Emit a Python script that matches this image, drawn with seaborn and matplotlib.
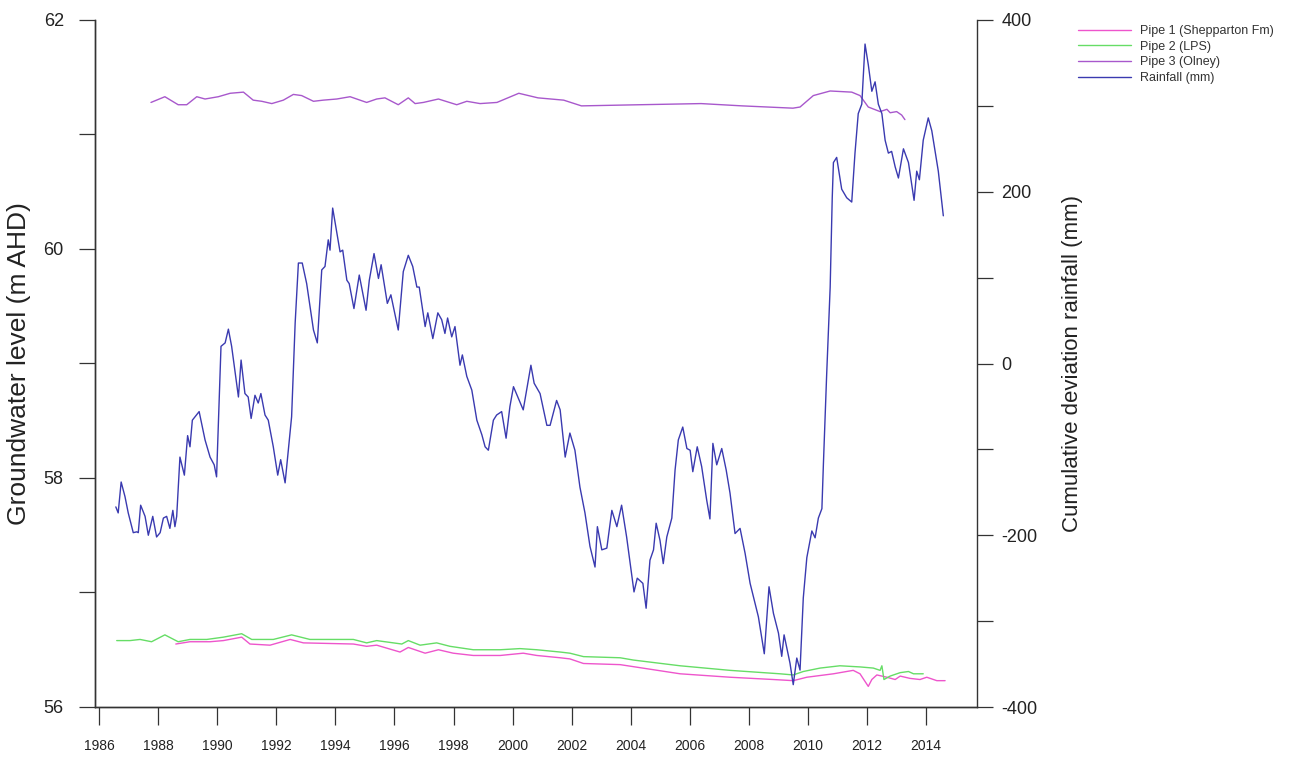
import matplotlib
matplotlib.use("Agg")
import matplotlib.pyplot as plt
import seaborn as sns
import numpy as np

# ---------------- data ----------------
rain_year = [
    1986.57, 1986.65, 1986.75, 1986.88, 1986.99, 1987.16, 1987.28, 1987.33, 1987.41, 1987.56,
    1987.67, 1987.82, 1987.95, 1988.07, 1988.18, 1988.29, 1988.40, 1988.50, 1988.57, 1988.63,
    1988.74, 1988.89, 1989.00, 1989.08, 1989.16, 1989.39, 1989.59, 1989.76, 1989.90, 1989.98,
    1990.13, 1990.27, 1990.38, 1990.49, 1990.72, 1990.81, 1990.94, 1991.05, 1991.15, 1991.28,
    1991.39, 1991.48, 1991.62, 1991.73, 1991.90, 1992.05, 1992.15, 1992.30, 1992.52, 1992.64,
    1992.75, 1992.88, 1993.03, 1993.26, 1993.39, 1993.54, 1993.65, 1993.76, 1993.82, 1993.91,
    1994.05, 1994.16, 1994.25, 1994.39, 1994.47, 1994.63, 1994.81, 1995.04, 1995.15, 1995.31,
    1995.46, 1995.55, 1995.76, 1995.88, 1996.13, 1996.30, 1996.47, 1996.62, 1996.76, 1996.84,
    1997.04, 1997.13, 1997.30, 1997.47, 1997.60, 1997.71, 1997.80, 1997.94, 1998.05, 1998.22,
    1998.30, 1998.45, 1998.62, 1998.79, 1998.96, 1999.07, 1999.18, 1999.35, 1999.46, 1999.63,
    1999.78, 1999.91, 2000.03, 2000.36, 2000.62, 2000.73, 2000.93, 2001.16, 2001.27, 2001.49,
    2001.61, 2001.78, 2001.94, 2002.11, 2002.28, 2002.45, 2002.62, 2002.79, 2002.87, 2003.02,
    2003.19, 2003.36, 2003.53, 2003.69, 2003.86, 2004.11, 2004.22, 2004.41, 2004.52, 2004.65,
    2004.77, 2004.86, 2004.99, 2005.10, 2005.22, 2005.39, 2005.50, 2005.61, 2005.76, 2005.90,
    2006.01, 2006.10, 2006.25, 2006.40, 2006.57, 2006.68, 2006.78, 2006.91, 2007.08, 2007.23,
    2007.36, 2007.53, 2007.70, 2007.87, 2008.04, 2008.32, 2008.52, 2008.68, 2008.83, 2009.00,
    2009.11, 2009.19, 2009.39, 2009.50, 2009.62, 2009.73, 2009.84, 2009.96, 2010.13, 2010.24,
    2010.35, 2010.47, 2010.52, 2010.63, 2010.75, 2010.82, 2010.86, 2010.97, 2011.14, 2011.31,
    2011.48, 2011.59, 2011.70, 2011.82, 2011.93, 2012.04, 2012.16, 2012.27, 2012.38, 2012.50,
    2012.61, 2012.72, 2012.83, 2012.95, 2013.06, 2013.23, 2013.40, 2013.59, 2013.68, 2013.77,
    2013.90, 2014.07, 2014.19, 2014.41, 2014.58,
]
rain_mm = [
    -167, -174, -138, -155, -174, -197, -196, -197, -165, -178,
    -200, -178, -202, -197, -180, -178, -192, -171, -190, -178,
    -109, -130, -84, -97, -66, -56, -89, -109, -118, -132,
    20, 24, 40, 20, -39, 4, -35, -39, -64, -37,
    -46, -35, -60, -66, -97, -130, -112, -139, -62, 47,
    117, 117, 93, 39, 24, 109, 113, 144, 132, 181,
    152, 130, 132, 97, 93, 64, 103, 62, 97, 128,
    99, 115, 70, 80, 39, 107, 126, 113, 89, 89,
    43, 59, 29, 59, 51, 35, 53, 31, 43, -2,
    10, -15, -31, -66, -83, -97, -101, -66, -60, -56,
    -87, -50, -27, -54, -2, -23, -35, -72, -72, -43,
    -54, -109, -81, -101, -144, -174, -213, -237, -190, -217,
    -215, -171, -190, -165, -202, -266, -250, -256, -285, -229,
    -217, -186, -206, -233, -202, -180, -124, -89, -74, -99,
    -101, -126, -97, -120, -159, -181, -93, -118, -99, -124,
    -151, -198, -192, -221, -256, -295, -338, -260, -291, -314,
    -341, -316, -349, -374, -343, -357, -273, -226, -195, -203,
    -180, -169, -118, -14, 89, 193, 234, 240, 203, 193,
    188, 245, 291, 302, 372, 348, 317, 328, 302, 291,
    260, 245, 247, 229, 216, 250, 234, 190, 224, 214,
    260, 286, 271, 224, 172,
]

p1_year = [1988.60, 1989.08, 1989.76, 1990.21, 1990.83, 1991.11, 1991.79, 1992.47, 1992.92, 1994.61,
           1995.06, 1995.40, 1996.19, 1996.47, 1997.04, 1997.49, 1997.99, 1998.67, 1999.58, 2000.36,
           2000.82, 2001.61, 2001.94, 2002.40, 2003.64, 2005.67, 2007.36, 2008.83, 2009.50, 2009.96,
           2010.86, 2011.53, 2011.76, 2012.04, 2012.16, 2012.33, 2012.67, 2012.95, 2013.12, 2013.45,
           2013.79, 2014.02, 2014.36, 2014.64]
p1_level = [56.55, 56.57, 56.57, 56.58, 56.61, 56.55, 56.54, 56.59, 56.56, 56.55,
            56.53, 56.54, 56.48, 56.52, 56.47, 56.50, 56.47, 56.45, 56.45, 56.47,
            56.45, 56.43, 56.42, 56.38, 56.37, 56.29, 56.26, 56.24, 56.23, 56.26,
            56.29, 56.32, 56.29, 56.18, 56.24, 56.28, 56.26, 56.24, 56.27, 56.25,
            56.24, 56.26, 56.23, 56.23]

p2_year = [1986.60, 1987.05, 1987.39, 1987.78, 1988.23, 1988.68, 1989.08, 1989.65, 1990.21, 1990.83,
           1991.17, 1991.90, 1992.52, 1993.14, 1994.61, 1995.06, 1995.40, 1996.25, 1996.47, 1996.87,
           1997.43, 1997.88, 1998.67, 1999.58, 2000.25, 2000.82, 2001.61, 2001.94, 2002.40, 2003.64,
           2004.09, 2005.67, 2007.36, 2009.05, 2009.50, 2009.84, 2010.41, 2011.08, 2011.76, 2012.21,
           2012.44, 2012.50, 2012.57, 2012.78, 2013.12, 2013.40, 2013.57, 2013.90]
p2_level = [56.58, 56.58, 56.59, 56.57, 56.63, 56.57, 56.59, 56.59, 56.61, 56.64,
            56.59, 56.59, 56.63, 56.59, 56.59, 56.56, 56.58, 56.55, 56.58, 56.54,
            56.56, 56.53, 56.50, 56.50, 56.51, 56.50, 56.48, 56.47, 56.44, 56.43,
            56.41, 56.36, 56.32, 56.29, 56.28, 56.31, 56.34, 56.36, 56.35, 56.34,
            56.32, 56.36, 56.24, 56.27, 56.30, 56.31, 56.29, 56.29]

p3_year = [1987.76, 1988.23, 1988.68, 1988.97, 1989.31, 1989.59, 1990.04, 1990.44, 1990.89, 1991.22,
           1991.51, 1991.85, 1992.24, 1992.58, 1992.86, 1993.26, 1993.59, 1994.05, 1994.50, 1995.06,
           1995.40, 1995.68, 1996.13, 1996.47, 1996.70, 1996.98, 1997.49, 1998.11, 1998.45, 1998.90,
           1999.47, 2000.21, 2000.86, 2001.73, 2002.33, 2004.31, 2006.38, 2007.77, 2009.49, 2009.73,
           2010.18, 2010.75, 2011.48, 2011.76, 2012.04, 2012.44, 2012.67, 2012.78, 2013.00, 2013.17,
           2013.28]
p3_level = [61.28, 61.33, 61.26, 61.26, 61.33, 61.31, 61.33, 61.36, 61.37, 61.30,
            61.29, 61.27, 61.30, 61.35, 61.34, 61.29, 61.30, 61.31, 61.33, 61.28,
            61.31, 61.32, 61.26, 61.32, 61.27, 61.28, 61.31, 61.26, 61.29, 61.27,
            61.28, 61.36, 61.32, 61.30, 61.25, 61.26, 61.27, 61.25, 61.23, 61.24,
            61.34, 61.38, 61.37, 61.34, 61.24, 61.20, 61.22, 61.19, 61.20, 61.17,
            61.13]

series_labels = ["Pipe 1 (Shepparton Fm)", "Pipe 2 (LPS)", "Pipe 3 (Olney)", "Rainfall (mm)"]
series_colors = ["#ee55cc", "#66dd66", "#a858cc", "#3a3ab0"]

x_ticks = list(range(1986, 2015, 2))
left_ticks = [56, 57, 58, 59, 60, 61, 62]
left_labels = ["56", "", "58", "", "60", "", "62"]
right_ticks = [-400, -300, -200, -100, 0, 100, 200, 300, 400]
right_labels = ["-400", "", "-200", "", "0", "", "200", "", "400"]

# ---------------- style ----------------
sns.set_theme(style="ticks")
plt.rcParams['font.family'] = ['Liberation Sans', 'DejaVu Sans']

W, H = 1293, 758
fig = plt.figure(figsize=(W / 100, H / 100), dpi=100)
x0, x1, ytop, ybot = 95, 977, 20, 707
ax = fig.add_axes([x0 / W, 1 - ybot / H, (x1 - x0) / W, (ybot - ytop) / H])
ax2 = ax.twinx()

lw = 1.0
sns.lineplot(x=p1_year, y=p1_level, ax=ax, color=series_colors[0], linewidth=lw,
             estimator=None, sort=False, legend=False)
sns.lineplot(x=p2_year, y=p2_level, ax=ax, color=series_colors[1], linewidth=lw,
             estimator=None, sort=False, legend=False)
sns.lineplot(x=p3_year, y=p3_level, ax=ax, color=series_colors[2], linewidth=lw,
             estimator=None, sort=False, legend=False)
sns.lineplot(x=rain_year, y=rain_mm, ax=ax2, color=series_colors[3], linewidth=lw,
             estimator=None, sort=False, legend=False)

ax.set_xlim(1985.865, 2015.72)
ax.set_ylim(56, 62)
ax2.set_ylim(-400, 400)

spine_col = "#333333"
for a in (ax, ax2):
    a.spines['top'].set_visible(False)
    for s in a.spines.values():
        s.set_color(spine_col)
        s.set_linewidth(1.0)
ax.spines['right'].set_visible(False)

ax.set_xticks(x_ticks)
ax.set_xticklabels([str(t) for t in x_ticks], fontsize=10, color="#222222")
ax.tick_params(axis='x', direction='out', length=13, width=0.9, color=spine_col, pad=10)

ax.set_yticks(left_ticks)
ax.set_yticklabels(left_labels, fontsize=13, color="#222222")
ax.tick_params(axis='y', direction='out', length=11.5, width=0.9, color=spine_col, pad=11)

ax2.set_yticks(right_ticks)
ax2.set_yticklabels(right_labels, fontsize=13, color="#222222")
ax2.tick_params(axis='y', direction='out', length=11.5, width=0.9, color=spine_col, pad=6)

ax.set_xlabel("")
ax.set_ylabel("Groundwater level (m AHD)", fontsize=19, color="#222222")
ax2.set_ylabel("Cumulative deviation rainfall (mm)", fontsize=16, color="#222222")
ax.yaxis.set_label_coords((31 - x0) / (x1 - x0), 0.5)
ax2.yaxis.set_label_coords((1062 - x0) / (x1 - x0), 0.5)

handles = list(ax.lines[:3]) + list(ax2.lines[:1])
fig.legend(handles, series_labels, loc='upper left',
           bbox_to_anchor=(1078 / W, 1 - 25 / H), frameon=False, fontsize=9,
           labelcolor="#333333",
           handlelength=4.2, handletextpad=0.8, labelspacing=0.3,
           borderaxespad=0, borderpad=0)

fig.savefig("out.png", dpi=100)
